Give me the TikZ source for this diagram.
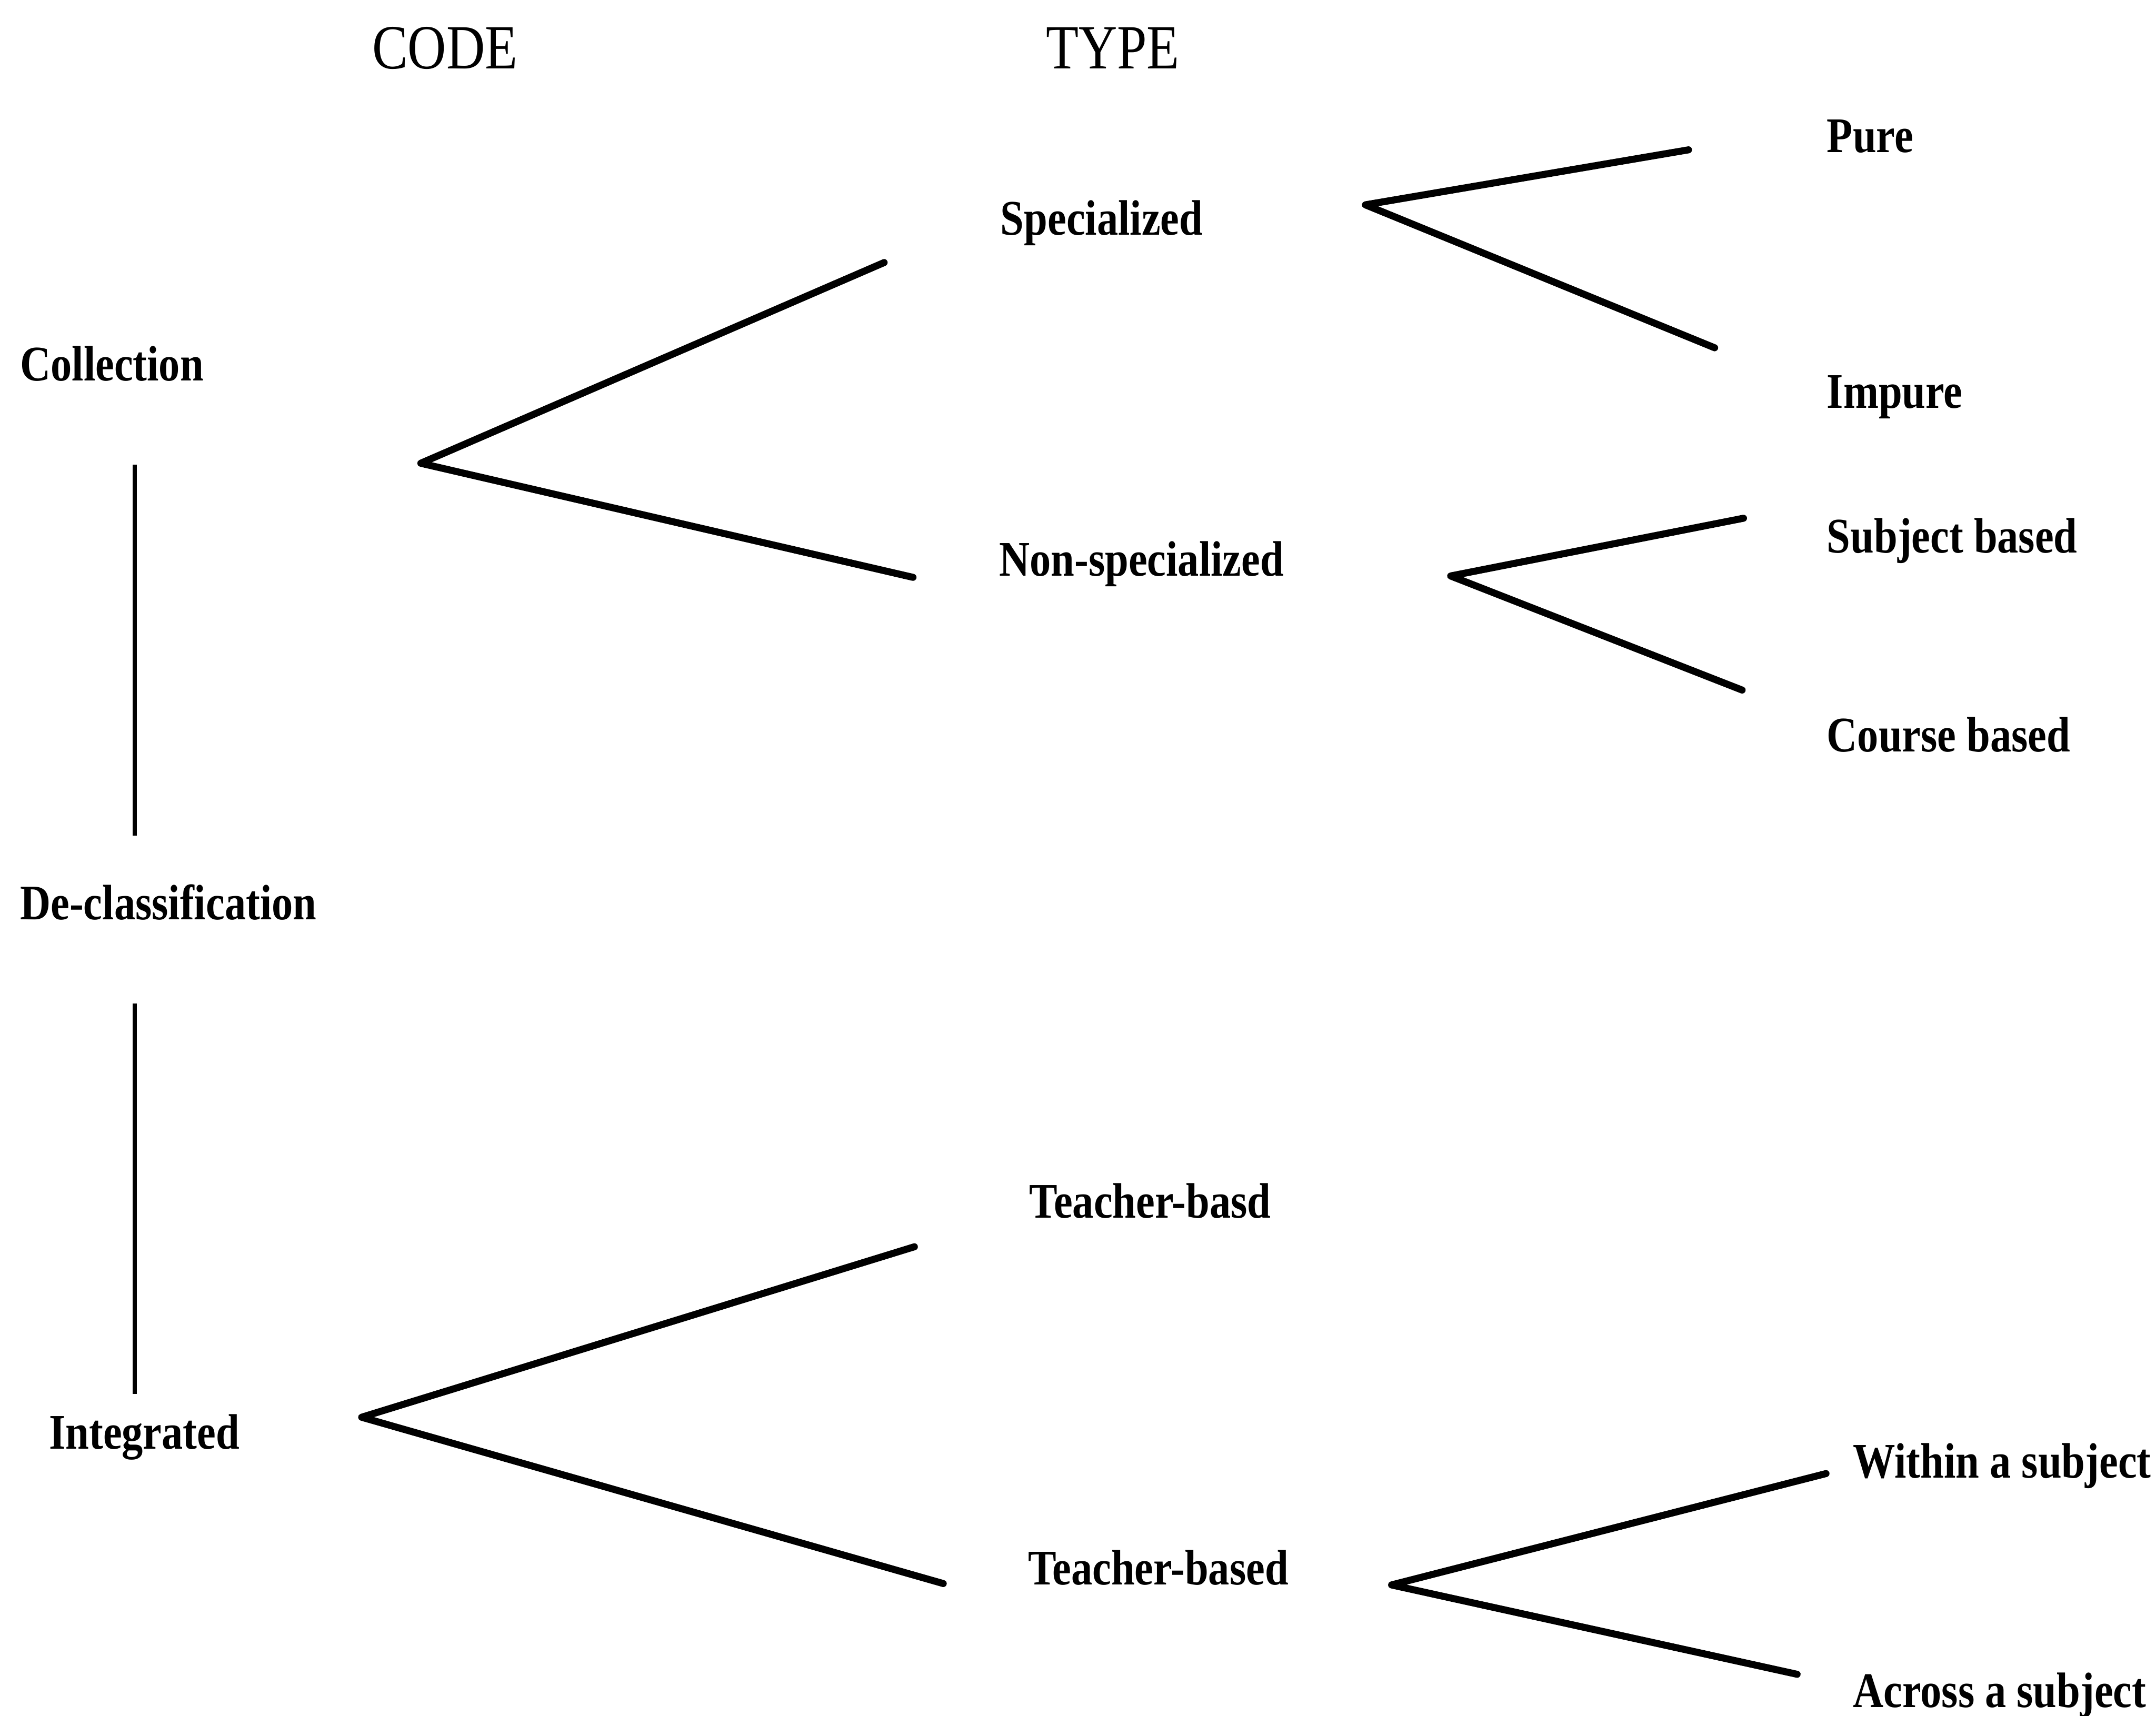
\documentclass[tikz,border=0pt]{standalone}
\usepackage{fontspec}
\setmainfont{Liberation Serif}[FakeStretch=0.85]
\begin{document}
\begin{tikzpicture}[x=0.01cm,y=-0.01cm,
  lbl/.style={anchor=base west,inner sep=0pt,font=\fontsize{10.3}{12}\selectfont\bfseries},
  head/.style={anchor=base west,inner sep=0pt,font=\fontsize{13}{15}\selectfont},
  fork/.style={line width=1.45pt,line cap=round,line join=round},
  vline/.style={line width=0.85pt}]
\useasboundingbox (0,0) rectangle (1568,1248);
% headings
\node[head] (code) at (270,50) {CODE};
\node[head] (type) at (760,50) {TYPE};
% codes
\node[lbl] (coll) at (14,277) {Collection};
\node[lbl] (decl) at (14,669) {De-classification};
\node[lbl] (integ) at (35,1054) {Integrated};
% types
\node[lbl] (spec) at (727,171) {Specialized};
\node[lbl] (nonspec) at (726,419) {Non-specialized};
\node[lbl] (tbasd) at (748,886) {Teacher-basd};
\node[lbl] (tbased) at (747,1153) {Teacher-based};
% subtypes
\node[lbl] (pure) at (1328,111) {Pure};
\node[lbl] (impure) at (1328,297) {Impure};
\node[lbl] (subj) at (1328,402) {Subject based};
\node[lbl] (course) at (1328,547) {Course based};
\node[lbl] (within) at (1347,1075) {Within a subject};
\node[lbl] (across) at (1347,1242) {Across a subject};
% fork coordinates
\coordinate (ca) at (306,337);
\coordinate (cs) at (643,191);
\coordinate (cn) at (664,420);
\coordinate (sa) at (993,149);
\coordinate (sp) at (1228,109);
\coordinate (si) at (1247,253);
\coordinate (na) at (1055,419);
\coordinate (ns) at (1268,377);
\coordinate (nc) at (1267,502);
\coordinate (ia) at (263,1031);
\coordinate (it) at (665,907);
\coordinate (ib) at (686,1152);
\coordinate (ta) at (1012,1153);
\coordinate (tw) at (1328,1072);
\coordinate (tx) at (1307,1218);
\coordinate (v1a) at (98,338);
\coordinate (v1b) at (98,608);
\coordinate (v2a) at (98,730);
\coordinate (v2b) at (98,1014);
% connectors
\draw[fork] (cs) -- (ca) -- (cn);
\draw[fork] (sp) -- (sa) -- (si);
\draw[fork] (ns) -- (na) -- (nc);
\draw[fork] (it) -- (ia) -- (ib);
\draw[fork] (tw) -- (ta) -- (tx);
\draw[vline] (v1a) -- (v1b);
\draw[vline] (v2a) -- (v2b);
\end{tikzpicture}
\end{document}
